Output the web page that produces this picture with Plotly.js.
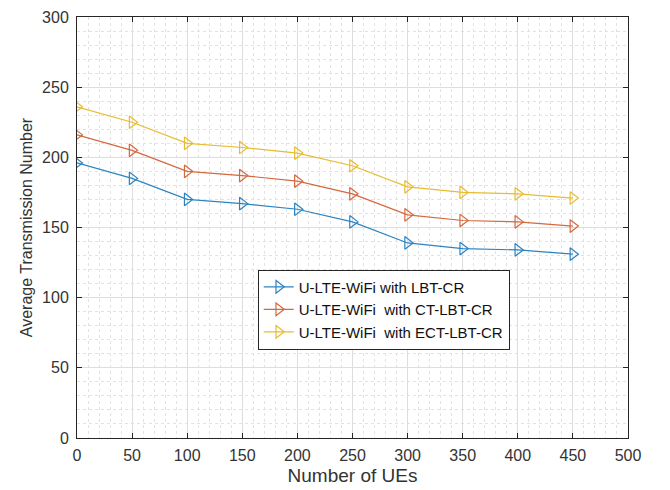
<!DOCTYPE html>
<html>
<head>
<meta charset="utf-8">
<script src="https://cdn.plot.ly/plotly-3.0.1.min.js"></script>
<style>html,body{margin:0;padding:0;background:#fff;}#chart{width:670px;height:490px;}</style>
</head>
<body>
<div id="chart"></div>
<script>
const numUEs = [0, 50, 100, 150, 200, 250, 300, 350, 400, 450];
const lbtCR = [196, 185, 170, 167, 163, 154, 139, 135, 134, 131];
const ctLbtCR = [216, 205, 190, 187, 183, 174, 159, 155, 154, 151];
const ectLbtCR = [236, 225, 210, 207, 203, 194, 179, 175, 174, 171];
const seriesNames = ['U-LTE-WiFi with LBT-CR', 'U-LTE-WiFi  with CT-LBT-CR', 'U-LTE-WiFi  with ECT-LBT-CR'];
const colors = ['#2a84c2', '#d4683e', '#e8bc30'];
const seriesVals = [lbtCR, ctLbtCR, ectLbtCR];

const FONT = 'Liberation Sans, Arial, sans-serif';

const traces = seriesVals.map((v, i) => ({
  x: numUEs, y: v, name: seriesNames[i], type: 'scatter', mode: 'lines+markers',
  line: {color: colors[i], width: 1.2},
  marker: {symbol: 'triangle-right-open', size: 11, color: colors[i], line: {width: 1.2, color: colors[i]}}
}));

const axisCommon = {
  showline: true, linecolor: '#262626', linewidth: 1, mirror: 'ticks',
  ticks: 'inside', ticklen: 5, tickcolor: '#262626',
  showgrid: true, gridcolor: '#dedede', gridwidth: 1,
  zeroline: false,
  tickfont: {family: FONT, size: 16, color: '#333'},
};

const layout = {
  width: 670, height: 490,
  margin: {l: 77, r: 42, t: 17, b: 52},
  paper_bgcolor: '#fff', plot_bgcolor: '#fff',
  showlegend: true,
  legend: {
    x: 0.328, y: 0.40, xanchor: 'left', yanchor: 'top',
    bgcolor: '#fff', bordercolor: '#262626', borderwidth: 1,
    font: {family: FONT, size: 15, color: '#111'},
    tracegroupgap: 0, itemwidth: 30
  },
  xaxis: Object.assign({}, axisCommon, {
    range: [0, 500], dtick: 50, tick0: 0, ticklabelstandoff: 3,
    minor: {dtick: 10, showgrid: true, gridcolor: '#e2e2e2', griddash: 'dot', gridwidth: 1},
    title: {text: 'Number of UEs', font: {family: FONT, size: 19, color: '#333'}, standoff: 5}
  }),
  yaxis: Object.assign({}, axisCommon, {
    range: [0, 300], dtick: 50, tick0: 0, ticklabelstandoff: 4,
    minor: {dtick: 10, showgrid: true, gridcolor: '#e2e2e2', griddash: 'dot', gridwidth: 1},
    title: {text: 'Average Transmission Number', font: {family: FONT, size: 16, color: '#333'}, standoff: 5}
  })
};

Plotly.newPlot('chart', traces, layout, {displayModeBar: false, staticPlot: true});
</script>
</body>
</html>
